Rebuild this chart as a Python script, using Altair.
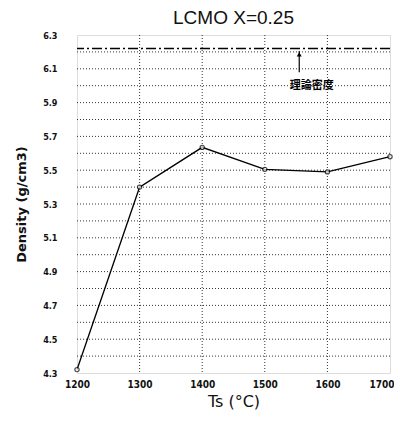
import altair as alt
import pandas as pd

temps = [1200, 1300, 1400, 1500, 1600, 1700]
density = [4.32, 5.40, 5.635, 5.505, 5.49, 5.58]
theory_density = 6.22
x_ticks = [1200, 1300, 1400, 1500, 1600, 1700]
x_grid = [1300, 1400, 1500, 1600]
y_labels = [4.3, 4.5, 4.7, 4.9, 5.1, 5.3, 5.5, 5.7, 5.9, 6.1, 6.3]
y_grid = [4.4, 4.5, 4.6, 4.7, 4.8, 4.9, 5.0, 5.1, 5.2, 5.3,
          5.4, 5.5, 5.6, 5.7, 5.8, 5.9, 6.0, 6.1, 6.2]
note_text = "理論密度"
arrow_x = 1555
note_x = 1575
arrow_from = 6.08
arrow_to = 6.205

df = pd.DataFrame({"T": temps, "D": density})

xs = alt.Scale(domain=[1200, 1700], nice=False, zero=False)
ys = alt.Scale(domain=[4.3, 6.3], nice=False, zero=False)

x_axis = alt.Axis(values=x_ticks, format="d", grid=False, ticks=False, domain=False,
                  labelFlush=False,
                  labelAlign={"condition": {"test": "datum.value == 1700", "value": "right"},
                              "value": "center"},
                  labelOffset={"condition": {"test": "datum.value == 1700", "value": 4},
                               "value": 0},
                  labelFont="DejaVu Sans Condensed", labelFontWeight="bold",
                  labelFontSize=10, labelPadding=6, labelColor="#111",
                  title="Ts (°C)", titleFont="DejaVu Sans", titleFontSize=16,
                  titleFontWeight="normal", titlePadding=4, titleColor="#111")
y_axis = alt.Axis(values=y_labels, format=".1f", grid=False, ticks=False, domain=False,
                  labelFlush=False,
                  labelFont="DejaVu Sans Condensed", labelFontWeight="bold",
                  labelFontSize=9, labelPadding=20, labelColor="#111",
                  title="Density (g/cm3)", titleFont="DejaVu Sans",
                  titleFontSize=13, titleFontWeight="bold", titlePadding=14,
                  titleColor="#111")

hgrid = alt.Chart(pd.DataFrame({"y": y_grid})).mark_rule(
    color="#333", strokeWidth=1, strokeDash=[1, 2]).encode(
    y=alt.Y("y:Q", scale=ys, axis=y_axis))
vgrid = alt.Chart(pd.DataFrame({"x": x_grid})).mark_rule(
    color="#333", strokeWidth=1, strokeDash=[1, 2]).encode(
    x=alt.X("x:Q", scale=xs, axis=x_axis))

line = alt.Chart(df).mark_line(color="black", strokeWidth=1.4).encode(
    x=alt.X("T:Q", scale=xs, axis=x_axis),
    y=alt.Y("D:Q", scale=ys, axis=y_axis),
)
pts = alt.Chart(df).mark_point(shape="circle", size=18, filled=True,
                               fill="white", stroke="black", strokeWidth=1.2).encode(
    x=alt.X("T:Q", scale=xs, axis=x_axis), y=alt.Y("D:Q", scale=ys, axis=y_axis))

theory = alt.Chart(pd.DataFrame({"y": [theory_density]})).mark_rule(
    color="black", strokeWidth=1.3, strokeDash=[10, 3, 2, 3]).encode(
    y=alt.Y("y:Q", scale=ys, axis=y_axis))

arrow = alt.Chart(pd.DataFrame({"x": [arrow_x], "y1": [arrow_from], "y2": [arrow_to]})).mark_rule(
    color="black", strokeWidth=1.2).encode(
    x=alt.X("x:Q", scale=xs, axis=x_axis), y=alt.Y("y1:Q", scale=ys, axis=y_axis), y2="y2:Q")
head = alt.Chart(pd.DataFrame({"x": [arrow_x], "y": [arrow_to - 0.02]})).mark_point(
    shape="triangle-up", size=25, filled=True, color="black", opacity=1).encode(
    x=alt.X("x:Q", scale=xs, axis=x_axis), y=alt.Y("y:Q", scale=ys, axis=y_axis))
note = alt.Chart(pd.DataFrame({"x": [note_x], "y": [6.0], "t": [note_text]})).mark_text(
    font="Noto Sans CJK JP", fontWeight="bold", fontSize=11, color="black",
    baseline="middle", align="center").encode(
    x=alt.X("x:Q", scale=xs, axis=x_axis), y=alt.Y("y:Q", scale=ys, axis=y_axis), text="t:N")

chart = alt.layer(hgrid, vgrid, line, pts, theory, arrow, head, note).properties(
    width=313, height=338,
    autosize=alt.AutoSizeParams(type="none"),
    padding={"left": 69, "top": 27, "right": 4, "bottom": 45},
    title=alt.TitleParams("LCMO X=0.25", font="Liberation Sans", fontSize=19,
                          fontWeight="normal", anchor="middle", offset=3,
                          color="#111"),
).configure_view(stroke="black", strokeWidth=1.5).configure(background="white")

chart.save("out.html", embed_options={"renderer": "svg", "actions": False})
